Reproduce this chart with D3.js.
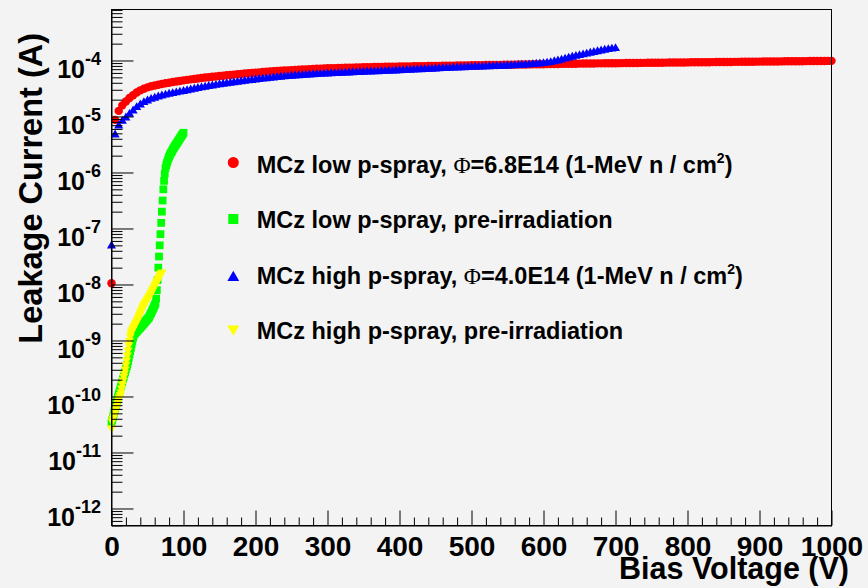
<!DOCTYPE html>
<html>
<head>
<meta charset="utf-8">
<script src="https://cdn.jsdelivr.net/npm/d3@7"></script>
<style>
  html, body { margin: 0; padding: 0; background: #f3f3f3; }
  svg { display: block; }
  text { font-family: "Liberation Sans", Arial, Helvetica, sans-serif; font-weight: bold; fill: #000; }
</style>
</head>
<body>
<svg id="chart" width="868" height="588"></svg>
<script>
// ---------------------------------------------------------------
// Leakage current vs. bias voltage, MCz sensors (low / high p-spray)
// ---------------------------------------------------------------

// Series names (legend order); a "^2" marks a superscript
const seriesNames = [
  "MCz low p-spray, \u03A6=6.8E14 (1-MeV n / cm^2)",
  "MCz low p-spray, pre-irradiation",
  "MCz high p-spray, \u03A6=4.0E14 (1-MeV n / cm^2)",
  "MCz high p-spray, pre-irradiation"
];

// Bias sweeps (V)
const lowIrrVoltage  = d3.range(0, 1001, 5);
const lowPreVoltage  = d3.range(0, 101, 1);
const highIrrVoltage = d3.range(0, 701, 5);
const highPreVoltage = d3.range(0, 71, 1);

// Low p-spray, irradiated: leakage current in µA
const lowIrrCurrentMicroA = [
  0.0105, 8.7,
  12.6, 15.8, 18.6, 21.4, 24.0, 26.9, 29.3, 31.3, 33.1, 34.6,
  35.8, 37.0, 38.1, 39.2, 40.2, 41.2, 42.2, 43.2, 44.2,
  45.1, 46.0, 46.9, 47.8, 48.7, 49.6, 50.4, 51.2, 52.0, 52.8,
  53.6, 54.4, 55.2, 56.0, 56.8, 57.6, 58.4, 59.2, 60.0, 60.7,
  61.4, 62.1, 62.8, 63.5, 64.2, 64.9, 65.5, 66.1, 66.7, 67.3,
  67.9, 68.5, 69.0, 69.5, 70.0, 70.5, 71.0, 71.5, 72.0, 72.5,
  72.8, 73.1, 73.4, 73.7, 74.0, 74.3, 74.6, 74.9, 75.2, 75.5,
  75.8, 76.1, 76.3, 76.6, 76.8, 77.1, 77.3, 77.6, 77.8, 78.0,
  78.2, 78.4, 78.6, 78.8, 79.0, 79.2, 79.4, 79.6, 79.8, 80.0,
  80.2, 80.4, 80.6, 80.8, 81.0, 81.2, 81.4, 81.6, 81.8, 82.0,
  82.2, 82.4, 82.6, 82.8, 83.0, 83.2, 83.4, 83.6, 83.8, 84.0,
  84.2, 84.4, 84.6, 84.8, 85.0, 85.2, 85.4, 85.6, 85.8, 86.0,
  86.2, 86.4, 86.6, 86.8, 87.0, 87.2, 87.4, 87.6, 87.8, 88.0,
  88.2, 88.3, 88.5, 88.6, 88.8, 88.9, 89.1, 89.2, 89.4, 89.5,
  89.7, 89.8, 90.0, 90.1, 90.3, 90.4, 90.6, 90.7, 90.9, 91.0,
  91.2, 91.3, 91.5, 91.6, 91.8, 91.9, 92.1, 92.2, 92.4, 92.5,
  92.7, 92.8, 93.0, 93.1, 93.3, 93.4, 93.6, 93.7, 93.9, 94.0,
  94.2, 94.3, 94.5, 94.6, 94.8, 94.9, 95.1, 95.2, 95.4, 95.5,
  95.7, 95.8, 96.0, 96.1, 96.3, 96.4, 96.6, 96.7, 96.9, 97.0,
  97.2, 97.3, 97.5, 97.6, 97.8, 97.9, 98.1, 98.2, 98.4, 98.5
];

// Low p-spray, pre-irradiation: leakage current in A
const lowPreCurrent = [
  3.39e-11, 3.80e-11, 4.27e-11, 4.90e-11, 5.50e-11, 6.17e-11, 6.92e-11, 7.76e-11, 8.71e-11, 9.77e-11,
  1.10e-10, 1.20e-10, 1.35e-10, 1.48e-10, 1.66e-10, 1.82e-10, 2.04e-10, 2.24e-10, 2.51e-10, 2.75e-10,
  3.09e-10, 3.39e-10, 3.72e-10, 4.27e-10, 4.90e-10, 5.62e-10, 6.46e-10, 7.41e-10, 8.51e-10, 9.77e-10,
  1.12e-9, 1.26e-9, 1.32e-9, 1.35e-9, 1.41e-9, 1.45e-9, 1.51e-9, 1.55e-9, 1.62e-9, 1.66e-9,
  1.70e-9, 1.78e-9, 1.82e-9, 1.91e-9, 1.95e-9, 2.04e-9, 2.09e-9, 2.19e-9, 2.24e-9, 2.34e-9,
  2.40e-9, 2.51e-9, 2.57e-9, 2.75e-9, 2.95e-9, 3.09e-9, 3.31e-9, 3.55e-9, 3.72e-9, 3.98e-9,
  4.27e-9, 4.57e-9, 5.62e-9, 7.94e-9, 1.20e-8, 2.00e-8, 3.16e-8, 5.01e-8, 7.94e-8, 1.26e-7,
  2.00e-7, 3.16e-7, 5.01e-7, 7.08e-7, 9.55e-7, 1.20e-6, 1.35e-6, 1.48e-6, 1.62e-6, 1.78e-6,
  1.91e-6, 2.04e-6, 2.19e-6, 2.29e-6, 2.40e-6, 2.57e-6, 2.69e-6, 2.82e-6, 2.95e-6, 3.09e-6,
  3.24e-6, 3.39e-6, 3.55e-6, 3.72e-6, 3.89e-6, 4.07e-6, 4.27e-6, 4.47e-6, 4.68e-6, 4.90e-6,
  5.13e-6
];

// High p-spray, irradiated: leakage current in µA
const highIrrCurrentMicroA = [
  0.049, 4.7,
  6.8, 8.3, 9.5, 11.0, 12.6, 14.5, 16.2, 17.8, 19.1, 20.4,
  21.4, 22.4, 23.4, 24.3, 25.1, 25.8, 26.6, 27.4, 28.2,
  29.1, 30.0, 30.9, 31.8, 32.7, 33.6, 34.5, 35.4, 36.3, 37.2,
  38.0, 38.8, 39.6, 40.4, 41.2, 42.0, 42.8, 43.6, 44.4, 45.2,
  46.0, 46.8, 47.6, 48.4, 49.2, 49.9, 50.6, 51.3, 52.0, 52.6,
  53.2, 53.8, 54.4, 55.0, 55.5, 56.0, 56.5, 57.0, 57.5, 58.0,
  58.4, 58.8, 59.2, 59.6, 60.0, 60.4, 60.8, 61.2, 61.6, 62.0,
  62.4, 62.8, 63.2, 63.6, 64.0, 64.4, 64.8, 65.2, 65.6, 66.0,
  66.5, 67.0, 67.5, 68.0, 68.5, 69.0, 69.5, 70.0, 70.5, 71.0,
  71.5, 72.0, 72.5, 73.0, 73.5, 74.0, 74.5, 75.0, 75.5, 76.0,
  76.4, 76.8, 77.2, 77.6, 78.0, 78.4, 78.8, 79.2, 79.7, 80.2,
  80.8, 81.4, 82.0, 82.7, 83.4, 84.2, 85.1, 86.1, 87.3, 88.7,
  90.5, 92.5, 95.5, 99.0, 102.5, 106.5, 111.0, 115.5, 119.5, 123.0,
  127.0, 131.0, 135.5, 140.0, 144.5, 149.0, 153.5, 157.5, 161.0, 164.0
];

// High p-spray, pre-irradiation: leakage current in A
const highPreCurrent = [
  2.75e-11, 3.63e-11, 4.07e-11, 4.47e-11, 5.01e-11, 5.50e-11, 6.03e-11, 6.61e-11, 7.41e-11, 8.13e-11,
  8.91e-11, 9.77e-11, 1.07e-10, 1.20e-10, 1.41e-10, 1.66e-10, 1.95e-10, 2.29e-10, 2.63e-10, 3.09e-10,
  3.72e-10, 4.47e-10, 5.50e-10, 6.76e-10, 8.32e-10, 1.00e-9, 1.20e-9, 1.35e-9, 1.45e-9, 1.55e-9,
  1.66e-9, 1.74e-9, 1.86e-9, 1.95e-9, 2.09e-9, 2.19e-9, 2.34e-9, 2.51e-9, 2.69e-9, 2.88e-9,
  3.09e-9, 3.31e-9, 3.55e-9, 3.80e-9, 4.07e-9, 4.37e-9, 4.57e-9, 4.79e-9, 5.01e-9, 5.25e-9,
  5.50e-9, 5.75e-9, 6.03e-9, 6.31e-9, 6.76e-9, 7.08e-9, 7.59e-9, 7.94e-9, 8.51e-9, 8.91e-9,
  9.55e-9, 1.00e-8, 1.07e-8, 1.12e-8, 1.20e-8, 1.26e-8, 1.35e-8, 1.41e-8, 1.51e-8, 1.58e-8,
  1.66e-8
];

// Axis ticks
const xMajorTicks = [0, 100, 200, 300, 400, 500, 600, 700, 800, 900, 1000];
const yDecadeExponents = [-12, -11, -10, -9, -8, -7, -6, -5, -4];

// ---------------------------------------------------------------
const svg = d3.select("#chart");
const W = 868, H = 588;
const frame = { left: 111.5, right: 831.5, top: 9.5, bottom: 525.5 };

svg.append("rect").attr("width", W).attr("height", H).attr("fill", "#f3f3f3");

const x = d3.scaleLinear().domain([0, 1000]).range([frame.left, frame.right]);
const y = d3.scaleLog()
  .domain([Math.pow(10, -12.3036), Math.pow(10, -3.0893)])
  .range([frame.bottom, frame.top]);

const zip = (vs, is, k) => vs.map((v, i) => ({ v, i: is[i] * k })).filter(d => !isNaN(d.i));

const series = [
  { name: seriesNames[0], color: "#ff0000", shape: "circle",  pts: zip(lowIrrVoltage,  lowIrrCurrentMicroA, 1e-6) },
  { name: seriesNames[1], color: "#00ff00", shape: "square",  pts: zip(lowPreVoltage,  lowPreCurrent, 1) },
  { name: seriesNames[2], color: "#0000ff", shape: "triUp",   pts: zip(highIrrVoltage, highIrrCurrentMicroA, 1e-6) },
  { name: seriesNames[3], color: "#ffff00", shape: "triDown", pts: zip(highPreVoltage, highPreCurrent, 1) }
];

function symbolPath(shape, scale) {
  const s = scale || 1;
  switch (shape) {
    case "circle":  return d3.symbol(d3.symbolCircle,   56 * s * s)();
    case "square":  return d3.symbol(d3.symbolSquare,   60 * s * s)();
    case "triUp":   return d3.symbol(d3.symbolTriangle, 36 * s * s)();
    case "triDown": return d3.symbol(d3.symbolTriangle, 36 * s * s)();
  }
}

// Data markers
const plot = svg.append("g");
series.forEach(s => {
  const path = symbolPath(s.shape, 1);
  const rot = s.shape === "triDown" ? " rotate(180)" : "";
  plot.append("g").selectAll("path")
    .data(s.pts)
    .join("path")
    .attr("d", path)
    .attr("transform", d => `translate(${x(d.v)},${y(d.i)})${rot}`)
    .attr("fill", s.color);
});

// Frame
svg.append("rect")
  .attr("x", frame.left).attr("y", frame.top)
  .attr("width", frame.right - frame.left).attr("height", frame.bottom - frame.top)
  .attr("fill", "none").attr("stroke", "#000").attr("stroke-width", 1);

// X axis: major ticks with labels, minor ticks every 20 V (ticks point inward)
const xMinorTicks = d3.range(0, 1001, 20).filter(v => v % 100 !== 0);
const gx = svg.append("g").attr("transform", `translate(0,${frame.bottom})`)
  .call(d3.axisBottom(x).tickValues(xMajorTicks).tickSize(-15).tickSizeOuter(0)
    .tickPadding(11).tickFormat(d3.format("d")));
gx.attr("font-family", null).attr("font-size", null);
gx.selectAll("text").style("font-size", "28px");
svg.append("g").attr("transform", `translate(0,${frame.bottom})`)
  .call(d3.axisBottom(x).tickValues(xMinorTicks).tickSize(-8).tickSizeOuter(0).tickFormat(""))
  .call(g => g.select(".domain").remove());

// Y axis: decade ticks and minor ticks at 2..9 x decade
const yMinorTicks = y.ticks().filter(t => {
  const m = t / Math.pow(10, Math.floor(Math.log10(t) + 1e-9));
  return Math.abs(m - 1) > 1e-6;
});
svg.append("g").attr("transform", `translate(${frame.left},0)`)
  .call(d3.axisLeft(y).tickValues(yDecadeExponents.map(e => Math.pow(10, e))).tickSize(-22).tickSizeOuter(0).tickFormat(""));
svg.append("g").attr("transform", `translate(${frame.left},0)`)
  .call(d3.axisLeft(y).tickValues(yMinorTicks).tickSize(-11).tickSizeOuter(0).tickFormat(""))
  .call(g => g.select(".domain").remove());

// Y decade labels as 10^n
const yLab = svg.append("g");
yDecadeExponents.forEach(e => {
  const ty = y(Math.pow(10, e));
  const t = yLab.append("text").attr("x", 101).attr("y", ty + 18).attr("text-anchor", "end");
  t.append("tspan").style("font-size", "25px").text("10");
  t.append("tspan").style("font-size", "18px").attr("dy", -13).text(String(e));
});

// Axis titles
svg.append("text")
  .attr("x", 849).attr("y", 579).attr("text-anchor", "end")
  .style("font-size", "30.5px").text("Bias Voltage (V)");
svg.append("text")
  .attr("transform", "translate(42,33) rotate(-90)").attr("text-anchor", "end")
  .style("font-size", "32.5px").text("Leakage Current (A)");

// Legend
const legendRows = [
  { y: 172.5, my: 162.5 },
  { y: 228.3, my: 219 },
  { y: 284,   my: 277.5 },
  { y: 338.5, my: 329 }
];
const legend = svg.append("g");
series.forEach((s, k) => {
  const row = legendRows[k];
  const rot = s.shape === "triDown" ? " rotate(180)" : "";
  legend.append("path")
    .attr("d", symbolPath(s.shape, 1.3))
    .attr("transform", `translate(233.3,${row.my})${rot}`)
    .attr("fill", s.color);
  const t = legend.append("text").attr("x", 256.7).attr("y", row.y).style("font-size", "23.5px");
  const name = s.name;
  const phiIdx = name.indexOf("\u03A6");
  if (phiIdx < 0) {
    t.text(name);
  } else {
    const supIdx = name.indexOf("^");
    t.append("tspan").text(name.slice(0, phiIdx));
    t.append("tspan").style("font-family", "'Liberation Serif', 'DejaVu Serif', serif")
      .style("font-weight", "normal").text("\u03A6");
    t.append("tspan").text(name.slice(phiIdx + 1, supIdx));
    t.append("tspan").style("font-size", "14px").attr("dy", -10).text(name.slice(supIdx + 1, supIdx + 2));
    t.append("tspan").attr("dy", 10).text(name.slice(supIdx + 2));
  }
});
</script>
</body>
</html>
